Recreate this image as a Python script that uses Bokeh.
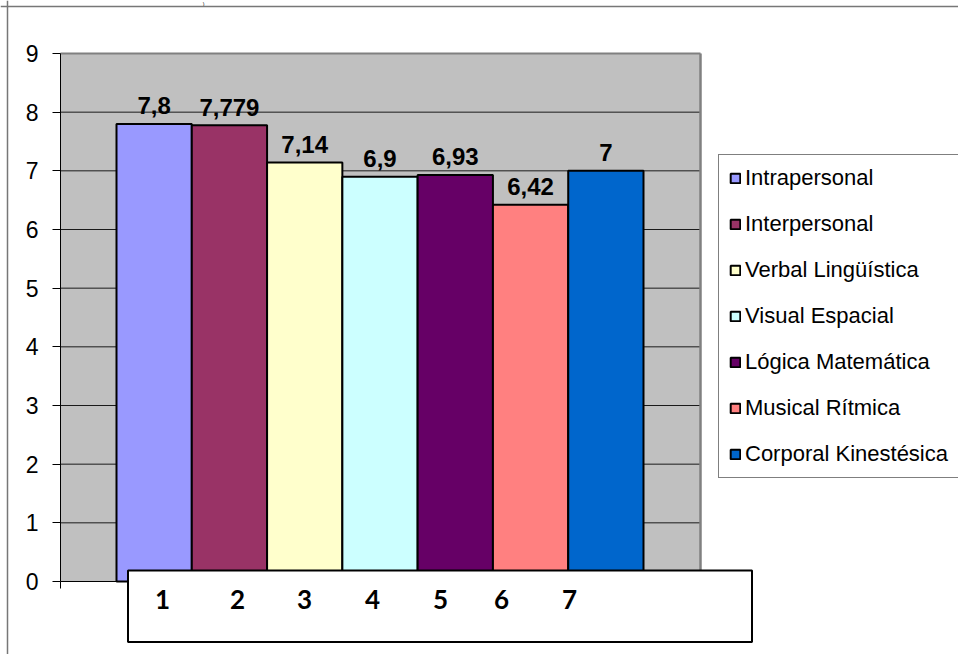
from bokeh.plotting import figure
from bokeh.models import ColumnDataSource, LinearAxis, FixedTicker, Span, Legend, LegendItem
from bokeh.core.properties import value
from bokeh.embed import file_html
from bokeh.resources import INLINE

# ---- data ----
categories = ["Intrapersonal", "Interpersonal", "Verbal Lingüística", "Visual Espacial",
              "Lógica Matemática", "Musical Rítmica", "Corporal Kinestésica"]
scores = [7.8, 7.779, 7.14, 6.9, 6.93, 6.42, 7]
score_labels = ["7,8", "7,779", "7,14", "6,9", "6,93", "6,42", "7"]
bar_numbers = ["1", "2", "3", "4", "5", "6", "7"]
y_ticks = [0, 1, 2, 3, 4, 5, 6, 7, 8, 9]
colors = ["#9999FF", "#993366", "#FFFFCC", "#CCFFFF", "#660066", "#FF8080", "#0066CC"]

# ---- layout (pixels) ----
W, H = 958, 654
OX, OY = 0, 0
PA_L, PA_R, PA_T, PA_B = 60, 700, 53, 581
BAR_L, BAR_R = 116, 643
YMAX = 9
XS = (BAR_R - BAR_L) / len(scores)
YS = (PA_B - PA_T) / YMAX
NUM_PX = [162, 237, 304, 372, 440, 501, 569]
NUM_PY = 599
BOX_L, BOX_R, BOX_T, BOX_B = 127.5, 751.5, 570, 641.5


def dx(px):
    return 0.5 + (px - BAR_L) / XS


def dy(py):
    return (PA_B - py) / YS


p = figure(width=W, height=H, x_range=(dx(OX), dx(OX + W)), y_range=(dy(OY + H), dy(OY)),
           output_backend="svg", toolbar_location=None, x_axis_location=None,
           y_axis_location=None, min_border=0, outline_line_color=None,
           background_fill_color="white", border_fill_color="white")
p.xgrid.visible = False
p.ygrid.visible = False

# chart border (left and top)
p.add_layout(Span(location=dx(7), dimension="height", line_color="#777777", line_width=1.5))
p.add_layout(Span(location=dy(6), dimension="width", line_color="#777777", line_width=1.5))

# small title fragment at the very top
p.text(x=[dx(203)], y=[dy(0.5)], text=[")"], text_align="center", text_baseline="top",
       text_font=value("Liberation Sans"), text_font_size="5px", text_color="black")

xl, xr = dx(PA_L), dx(PA_R)

# plot area
p.quad(left=xl, right=xr, bottom=0, top=YMAX, fill_color="#C0C0C0", line_color=None)
grid_vals = [t for t in y_ticks if 0 < t < YMAX]
p.segment(x0=xl, x1=xr, y0=grid_vals, y1=grid_vals, line_color="#1a1a1a", line_width=1)
p.segment(x0=xl, x1=xr, y0=YMAX, y1=YMAX, line_color="#808080", line_width=2)
p.segment(x0=xr, x1=xr, y0=0, y1=YMAX, line_color="#808080", line_width=2.5)

# bars
idx = list(range(1, len(scores) + 1))
src = ColumnDataSource(dict(x=idx, top=scores, color=colors, name=categories, lab=score_labels))
bars = p.vbar(x="x", top="top", width=1, source=src, fill_color="color",
              line_color="black", line_width=2)

p.text(x="x", y="top", text="lab", source=src, text_align="center",
       text_baseline="alphabetic", y_offset=-18, text_font=value("Liberation Sans"),
       text_font_style="bold", text_font_size="24px", text_color="black")

# axes
yaxis = LinearAxis(fixed_location=xl, ticker=FixedTicker(ticks=y_ticks), bounds=(0, YMAX),
                   major_tick_in=0, major_tick_out=8, minor_tick_out=0, minor_tick_in=0,
                   axis_line_color="black", major_tick_line_color="black",
                   major_label_text_font="Liberation Sans", major_label_text_font_size="23px",
                   major_label_text_color="black", major_label_standoff=14)
p.add_layout(yaxis, "left")
xaxis = LinearAxis(fixed_location=0, ticker=FixedTicker(ticks=[xl, xr]), bounds=(xl, xr),
                   major_tick_in=0, major_tick_out=7, minor_tick_out=0, minor_tick_in=0,
                   axis_line_color="black", major_tick_line_color="black",
                   major_label_text_color=None)
p.add_layout(xaxis, "below")

# white label box with numbers
p.quad(left=dx(BOX_L), right=dx(BOX_R), bottom=dy(BOX_B), top=dy(BOX_T),
       fill_color="white", line_color="black", line_width=2, level="overlay")
p.text(x=[dx(v) for v in NUM_PX], y=dy(NUM_PY), text=bar_numbers, text_align="center",
       text_baseline="middle", text_font=value("Lato"), text_font_style="bold",
       text_font_size="26px", text_color="black", level="overlay")

# legend
items = [LegendItem(label=c, renderers=[bars], index=i) for i, c in enumerate(categories)]
legend = Legend(items=items, location=(718, H - 478), margin=0, padding=10, spacing=20,
                glyph_width=12, glyph_height=12, label_height=26, label_width=203,
                label_standoff=4, label_text_font="Liberation Sans",
                label_text_font_size="22px", label_text_color="black",
                border_line_color="black", border_line_width=1,
                background_fill_color="white", background_fill_alpha=1)
p.add_layout(legend)

open("out.html", "w").write(file_html(p, INLINE))
